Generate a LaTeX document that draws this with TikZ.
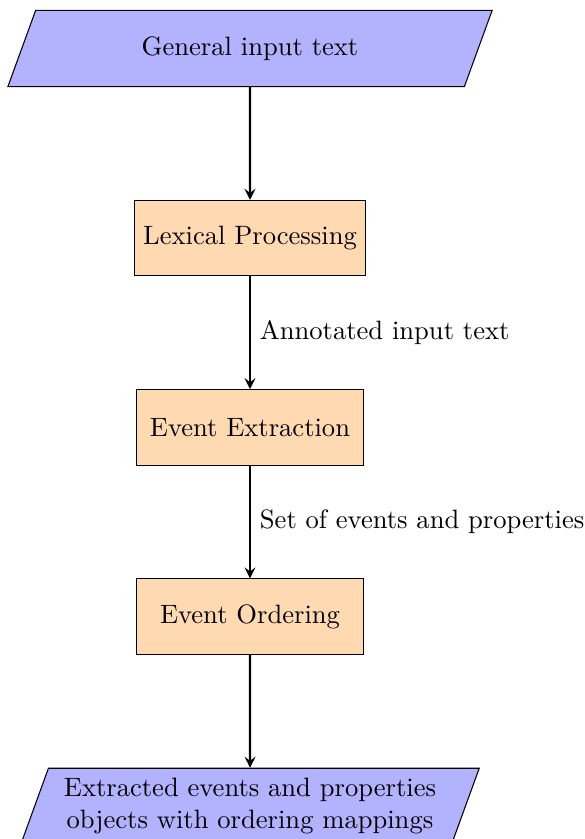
\documentclass[tikz,border=0pt]{standalone}
\usepackage{tikz}
\usetikzlibrary{shapes.geometric}
\usetikzlibrary{positioning}
\usetikzlibrary{arrows}
\tikzstyle{io}=[trapezium, trapezium left angle=70, trapezium right angle=110, minimum height=1cm, text centered, draw=black, fill=blue!30]
\tikzstyle{process}=[rectangle, minimum width=3cm, minimum height=1cm, text centered, draw=black, fill=orange!30]
\tikzstyle{arrow}=[thick,->,>=stealth]

\begin{document}
\begin{tikzpicture}
  \useasboundingbox (-3.307,0.642) rectangle (4.431,-10.456);
  \node (input) [io, minimum width=6.41cm] {General input text};
  \node (lexical) [process, below=1.49cm of input] {Lexical Processing};
  \node (extraction) [process, below=1.49cm of lexical] {Event Extraction};
  \node (ordering) [process, below=1.49cm of extraction] {Event Ordering};
  \node (output) [io, minimum width=6.07cm, align=center, below=1.49cm of ordering] {Extracted events and properties\\objects with ordering mappings};
  \draw [arrow] (input) -- (lexical);
  \draw [arrow] (lexical) -- node[right] (annotated) {Annotated input text} (extraction);
  \draw [arrow] (extraction) -- node[right] (events) {Set of events and properties} (ordering);
  \draw [arrow] (ordering) -- (output);
\end{tikzpicture}
\end{document}
